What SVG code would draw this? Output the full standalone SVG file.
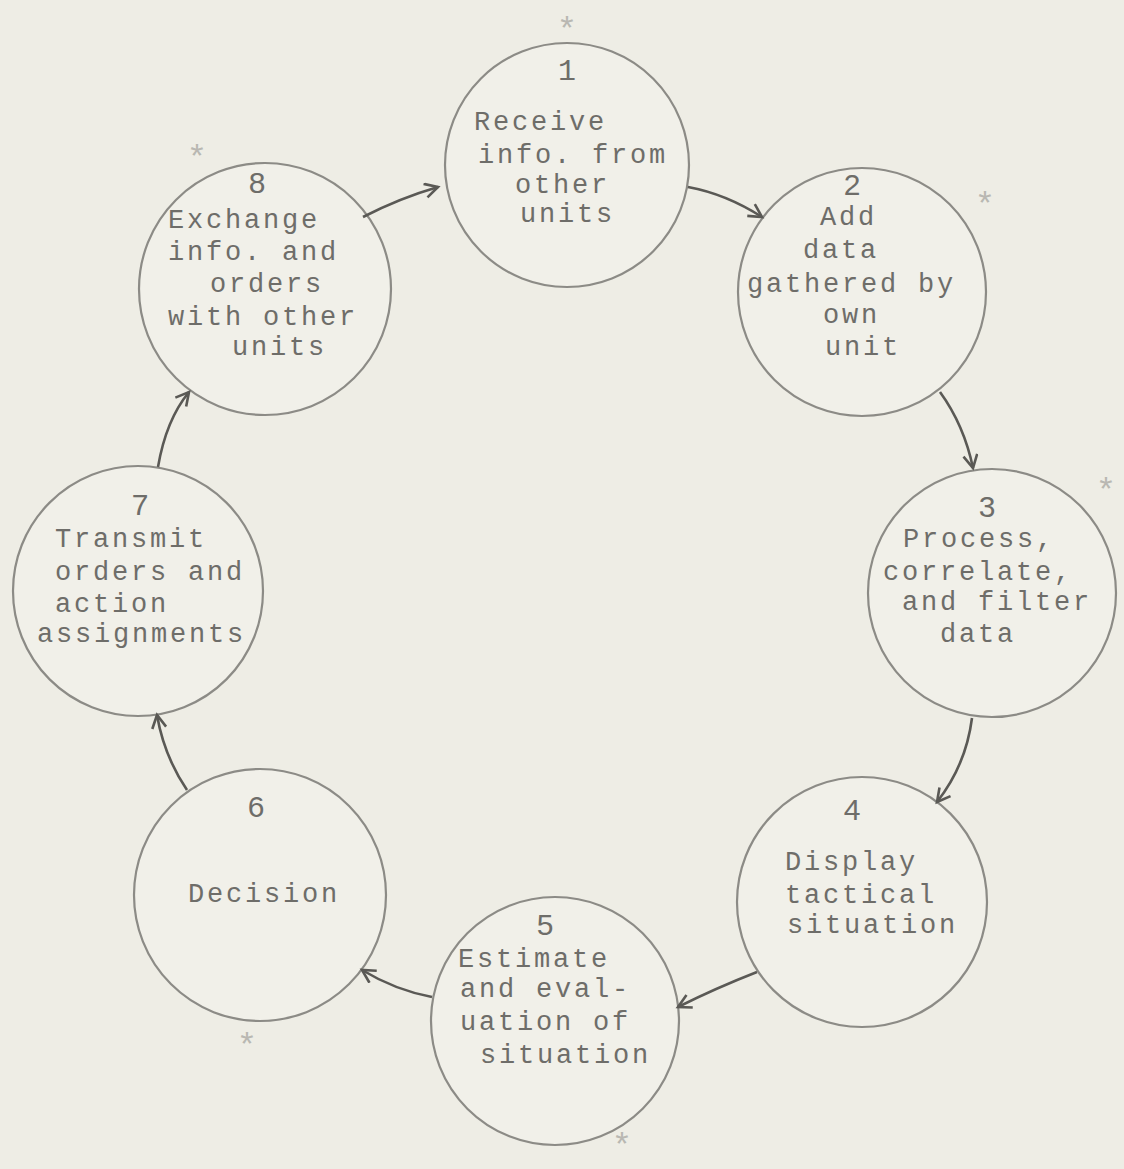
<svg xmlns="http://www.w3.org/2000/svg" width="1124" height="1169" viewBox="0 0 1124 1169">
<style>
.bg{fill:#eeede5}
.node circle{fill:#f1f0e9;stroke:#8c8b86;stroke-width:2.2}
.t{font-family:"Liberation Mono","DejaVu Sans Mono",monospace;font-size:27px;letter-spacing:2.8px;fill:#6e6d69}
.n{font-family:"Liberation Sans","DejaVu Sans",sans-serif;font-size:30px;fill:#6e6d69;text-anchor:middle}
.n1{font-family:"Liberation Mono",monospace;font-size:30px;fill:#6e6d69;text-anchor:middle}
.conn path{fill:none;stroke:#5a5955;stroke-width:2.6}
.star{font-family:"Liberation Mono",monospace;font-size:34px;fill:#b9b8b2;text-anchor:middle}
</style>
<defs>
<marker id="ah" markerUnits="userSpaceOnUse" markerWidth="20" markerHeight="20" refX="15" refY="8" orient="auto">
<path d="M2,1 L15,8 L2,15" fill="none" stroke="#5a5955" stroke-width="2.6"/>
</marker>
</defs>
<rect class="bg" x="0" y="0" width="1124" height="1169"/>
<g id="marks">
<text class="star" x="567" y="40">*</text>
<text class="star" x="197" y="168">*</text>
<text class="star" x="985" y="215">*</text>
<text class="star" x="1106" y="501">*</text>
<text class="star" x="247" y="1056">*</text>
<text class="star" x="622" y="1156">*</text>
</g>
<g id="node1" class="node">
<circle cx="567" cy="165" r="122"/>
<text class="n1" x="567" y="80">1</text>
<text class="t" x="474" y="130">Receive</text>
<text class="t" x="478" y="163">info. from</text>
<text class="t" x="515" y="193">other</text>
<text class="t" x="520" y="222">units</text>
</g>
<g id="node2" class="node">
<circle cx="862" cy="292" r="124"/>
<text class="n" x="852" y="195">2</text>
<text class="t" x="820" y="225">Add</text>
<text class="t" x="803" y="258">data</text>
<text class="t" x="747" y="292">gathered by</text>
<text class="t" x="823" y="323">own</text>
<text class="t" x="825" y="355">unit</text>
</g>
<g id="node3" class="node">
<circle cx="992" cy="593" r="124"/>
<text class="n" x="987" y="517">3</text>
<text class="t" x="903" y="547">Process,</text>
<text class="t" x="883" y="580">correlate,</text>
<text class="t" x="902" y="610">and filter</text>
<text class="t" x="940" y="642">data</text>
</g>
<g id="node4" class="node">
<circle cx="862" cy="902" r="125"/>
<text class="n" x="852" y="820">4</text>
<text class="t" x="785" y="870">Display</text>
<text class="t" x="785" y="903">tactical</text>
<text class="t" x="787" y="933">situation</text>
</g>
<g id="node5" class="node">
<circle cx="555" cy="1021" r="124"/>
<text class="n" x="545" y="935">5</text>
<text class="t" x="458" y="967">Estimate</text>
<text class="t" x="460" y="997">and eval-</text>
<text class="t" x="460" y="1030">uation of</text>
<text class="t" x="480" y="1063">situation</text>
</g>
<g id="node6" class="node">
<circle cx="260" cy="895" r="126"/>
<text class="n" x="256" y="817">6</text>
<text class="t" x="188" y="902">Decision</text>
</g>
<g id="node7" class="node">
<circle cx="138" cy="591" r="125"/>
<text class="n" x="140" y="515">7</text>
<text class="t" x="55" y="547">Transmit</text>
<text class="t" x="55" y="580">orders and</text>
<text class="t" x="55" y="612">action</text>
<text class="t" x="37" y="642">assignments</text>
</g>
<g id="node8" class="node">
<circle cx="265" cy="289" r="126"/>
<text class="n" x="257" y="193">8</text>
<text class="t" x="168" y="228">Exchange</text>
<text class="t" x="168" y="260">info. and</text>
<text class="t" x="210" y="292">orders</text>
<text class="t" x="168" y="325">with other</text>
<text class="t" x="232" y="355">units</text>
</g>
<g id="connectors" class="conn">
<path d="M688,187 Q726,194 762,217" marker-end="url(#ah)"/>
<path d="M940,392 Q964,425 973,468" marker-end="url(#ah)"/>
<path d="M972,718 Q966,765 937,802" marker-end="url(#ah)"/>
<path d="M757,972 Q716,988 678,1007" marker-end="url(#ah)"/>
<path d="M432,997 Q395,990 362,970" marker-end="url(#ah)"/>
<path d="M187,790 Q164,756 157,715" marker-end="url(#ah)"/>
<path d="M158,467 Q166,420 189,392" marker-end="url(#ah)"/>
<path d="M363,217 Q400,198 438,187" marker-end="url(#ah)"/>
</g>
</svg>
